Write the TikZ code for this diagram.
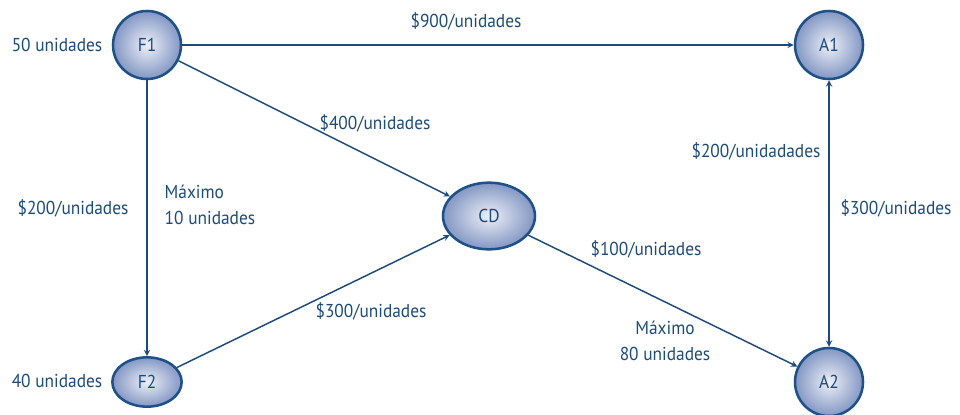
\documentclass[tikz,border=0pt]{standalone}
\usepackage{fontspec}
\setmainfont{PT Sans}[FakeStretch=0.93]
\usetikzlibrary{shapes.geometric}
\definecolor{azul}{HTML}{1B4B7E}
\definecolor{borda}{HTML}{1E5189}
\definecolor{fundo}{HTML}{8397C4}
\tikzset{>=stealth}

\begin{document}
\begin{tikzpicture}[x=0.75pt,y=-0.75pt,
  font=\fontsize{14}{20}\selectfont, text=azul,
  no/.style={draw=borda, line width=1.9pt, shading=radial,
    inner color=white!85!fundo, outer color=fundo},
  redondo/.style={no, circle, minimum size=51pt, inner sep=0pt},
  oval/.style={no, ellipse, inner sep=0pt},
  seta/.style={->, draw=azul, line width=1.1pt}]
\useasboundingbox (0,0) rectangle (960,414);
% nos
\node[redondo] (F1) at (147,45) {F1};
\node[redondo] (A1) at (829,45) {A1};
\node[redondo] (A2) at (829,382) {A2};
\node[oval, minimum width=69pt, minimum height=50pt] (CD) at (489,216) {CD};
\node[oval, minimum width=52pt, minimum height=37pt] (F2) at (147,382) {F2};
% ligacoes
\draw[seta] (F1) -- (A1);
\draw[seta] (F1) -- (CD);
\draw[seta] (F1) -- (F2);
\draw[seta] (F2) -- (CD);
\draw[seta] (CD) -- (A2);
\draw[seta, <->] (A1) -- (A2);
% textos
\node (s900) at (466,21) {\$900/unidades};
\node (s400) at (375,123) {\$400/unidades};
\node (s200) at (73,208) {\$200/unidades};
\node[align=left, anchor=west] (m10) at (160,205) {Máximo\\10 unidades};
\node (s300) at (371,311) {\$300/unidades};
\node (s100) at (646,249) {\$100/unidades};
\node[align=center] (m80) at (665,341) {Máximo\\80 unidades};
\node (s200b) at (756,151) {\$200/unidadades};
\node (s300b) at (896,208) {\$300/unidades};
\node (q50) at (57,45) {50 unidades};
\node (q40) at (57,381) {40 unidades};
\end{tikzpicture}
\end{document}
